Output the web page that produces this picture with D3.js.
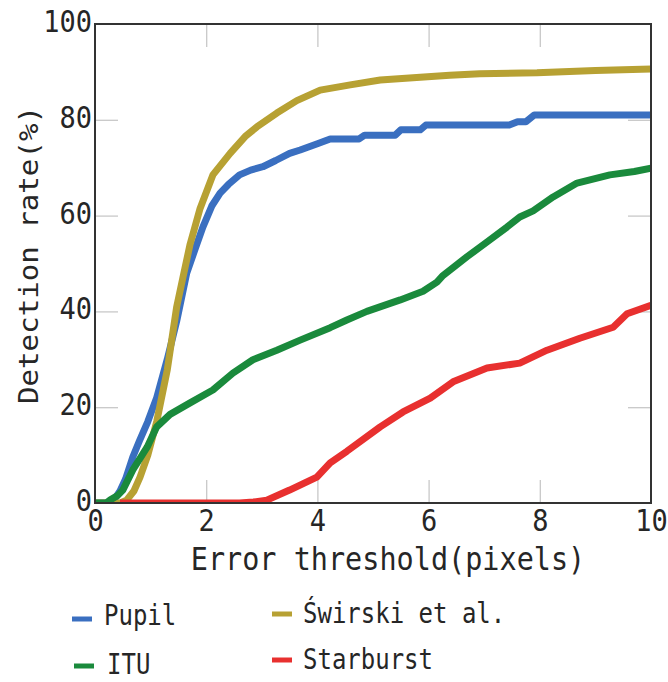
<!DOCTYPE html>
<html>
<head>
<meta charset="utf-8">
<script src="https://cdn.jsdelivr.net/npm/d3@7"></script>
<style>
  html, body { margin: 0; padding: 0; background: #fff; }
  svg { display: block; }
  text { font-family: "DejaVu Sans Mono", monospace; fill: #262626; }
</style>
</head>
<body>
<svg id="chart" width="668" height="682"></svg>
<script>
// ---- data ----
const pupilX = [0, 0.25, 0.35, 0.45, 0.55, 0.68, 0.8, 0.95, 1.11, 1.3, 1.47, 1.65, 1.8, 1.94, 2.1, 2.25, 2.4, 2.6, 2.8, 3.02, 3.25, 3.5, 3.69, 4.0, 4.23, 4.75, 4.85, 5.4, 5.5, 5.85, 5.95, 7.45, 7.6, 7.75, 7.9, 10];
const pupilY = [0, 0, 0.8, 2.5, 5, 9.6, 13, 17, 22, 30, 38, 48, 53, 57.6, 62, 64.7, 66.5, 68.5, 69.5, 70.2, 71.5, 73, 73.7, 75, 76, 76, 76.8, 76.8, 77.9, 77.9, 78.9, 78.9, 79.6, 79.6, 81, 81];

const swirskiX = [0, 0.45, 0.57, 0.7, 0.81, 0.95, 1.11, 1.3, 1.47, 1.58, 1.71, 1.89, 2.12, 2.43, 2.7, 2.91, 3.27, 3.63, 4.05, 4.59, 5.13, 5.85, 6.38, 6.92, 7.95, 9, 10];
const swirskiY = [0, 0, 0.6, 2.5, 5.4, 10, 17, 27.8, 41, 47, 54, 61.5, 68.5, 73, 76.5, 78.5, 81.4, 84, 86.2, 87.3, 88.3, 88.9, 89.3, 89.6, 89.8, 90.3, 90.6];

const ituX = [0, 0.2, 0.27, 0.4, 0.5, 0.68, 0.94, 1.11, 1.35, 1.71, 2.12, 2.48, 2.84, 3.27, 3.69, 4.23, 4.53, 4.89, 5.49, 5.9, 6.15, 6.26, 6.69, 7.05, 7.41, 7.64, 7.88, 8.24, 8.67, 9.26, 9.7, 10];
const ituY = [0, 0, 0.6, 1.5, 2.7, 6.9, 11.7, 15.9, 18.5, 20.9, 23.6, 27.1, 29.9, 31.9, 34, 36.6, 38.2, 40, 42.4, 44.2, 46.1, 47.5, 51.4, 54.5, 57.6, 59.7, 61, 63.9, 66.8, 68.5, 69.2, 69.9];

const starX = [0.45, 2.6, 2.85, 3.09, 3.5, 3.99, 4.23, 4.53, 5.13, 5.54, 6.03, 6.44, 7.05, 7.64, 8.13, 8.72, 9.32, 9.57, 10];
const starY = [0, 0, 0.2, 0.6, 2.7, 5.4, 8.4, 10.8, 15.9, 19, 21.9, 25.3, 28.2, 29.2, 31.9, 34.4, 36.7, 39.5, 41.3];

const xTicks = [0, 2, 4, 6, 8, 10];
const yTicks = [0, 20, 40, 60, 80, 100];

const seriesNames  = ['Pupil', 'Świrski et al.', 'ITU', 'Starburst'];
const seriesColors = ['#3a6fc0', '#b7a133', '#1a8a3c', '#e8302f'];

// ---- layout ----
const L = 95, R = 651, T = 24, B = 503;
const SY = 1.12;   // glyphs in the reference are a bit taller than DejaVu

const svg = d3.select('#chart');

const x = d3.scaleLinear().domain([0, 10]).range([L, R]);
const y = d3.scaleLinear().domain([0, 100]).range([B, T]);

// inner light ticks on all four sides
const innerX = xTicks.slice(1, -1);
const innerY = yTicks.slice(1, -1);
const tickLen = 23;

function lightTicks(g) {
  g.select('.domain').remove();
  g.selectAll('line').attr('stroke', '#c8c8c8').attr('stroke-width', 1.3);
  g.selectAll('text').remove();
}

svg.append('g').attr('transform', `translate(0,${B})`)
  .call(d3.axisBottom(x).tickValues(innerX).tickSize(-tickLen)).call(lightTicks);
svg.append('g').attr('transform', `translate(0,${T})`)
  .call(d3.axisTop(x).tickValues(innerX).tickSize(-tickLen)).call(lightTicks);
svg.append('g').attr('transform', `translate(${L},0)`)
  .call(d3.axisLeft(y).tickValues(innerY).tickSize(-tickLen)).call(lightTicks);
svg.append('g').attr('transform', `translate(${R},0)`)
  .call(d3.axisRight(y).tickValues(innerY).tickSize(-tickLen)).call(lightTicks);

// ---- lines ----
const line = d3.line().x(d => x(d[0])).y(d => y(d[1]));
const series = [
  [pupilX, pupilY],
  [swirskiX, swirskiY],
  [ituX, ituY],
  [starX, starY],
];

svg.append('clipPath').attr('id', 'plotclip')
  .append('rect').attr('x', L).attr('y', T - 5).attr('width', R - L).attr('height', B - T + 5);

const lineG = svg.append('g').attr('clip-path', 'url(#plotclip)');
series.forEach(([xs, ys], i) => {
  lineG.append('path')
    .datum(xs.map((v, k) => [v, ys[k]]))
    .attr('fill', 'none')
    .attr('stroke', seriesColors[i])
    .attr('stroke-width', 7)
    .attr('stroke-linejoin', 'round')
    .attr('stroke-linecap', 'butt')
    .attr('d', line);
});

// ---- frame ----
svg.append('rect')
  .attr('x', L).attr('y', T).attr('width', R - L).attr('height', B - T)
  .attr('fill', 'none').attr('stroke', '#333').attr('stroke-width', 2);

// ---- tick labels ----
const yLab = svg.append('g').attr('transform', `translate(${L},0)`)
  .call(d3.axisLeft(y).tickValues(yTicks).tickSize(0).tickPadding(3));
yLab.select('.domain').remove();
yLab.selectAll('text')
  .attr('font-size', 27).attr('font-family', '"DejaVu Sans Mono", monospace').attr('fill', '#262626')
  .attr('x', -3).attr('dy', 7.5 / SY)
  .attr('transform', `scale(1,${SY})`);

const xLab = svg.append('g').attr('transform', `translate(0,${B})`)
  .call(d3.axisBottom(x).tickValues(xTicks).tickSize(0));
xLab.select('.domain').remove();
xLab.selectAll('text')
  .attr('font-size', 27).attr('font-family', '"DejaVu Sans Mono", monospace').attr('fill', '#262626')
  .attr('y', 28 / SY).attr('dy', 0)
  .attr('transform', `scale(1,${SY})`);

// ---- axis titles ----
svg.append('text')
  .attr('transform', `translate(388,570) scale(1,${SY})`)
  .attr('text-anchor', 'middle')
  .attr('font-size', 28.5)
  .text('Error threshold(pixels)');

svg.append('text')
  .attr('transform', `translate(38,255) rotate(-90) scale(${SY},1)`)
  .attr('text-anchor', 'middle')
  .attr('font-size', 26)
  .text('Detection rate(%)');

// ---- legend ----
const legendItems = [
  { i: 0, sx: 72, sy: 619, tx: 104, ty: 625 },
  { i: 1, sx: 272, sy: 614, tx: 303, ty: 623 },
  { i: 2, sx: 74, sy: 666, tx: 107, ty: 674 },
  { i: 3, sx: 272, sy: 660, tx: 303, ty: 669 },
];
const leg = svg.append('g');
legendItems.forEach(d => {
  leg.append('line')
    .attr('x1', d.sx).attr('x2', d.sx + 20)
    .attr('y1', d.sy).attr('y2', d.sy)
    .attr('stroke', seriesColors[d.i]).attr('stroke-width', 5);
  leg.append('text')
    .attr('transform', `translate(${d.tx},${d.ty}) scale(1,${SY + 0.08})`)
    .attr('font-size', 24)
    .text(seriesNames[d.i]);
});
</script>
</body>
</html>
